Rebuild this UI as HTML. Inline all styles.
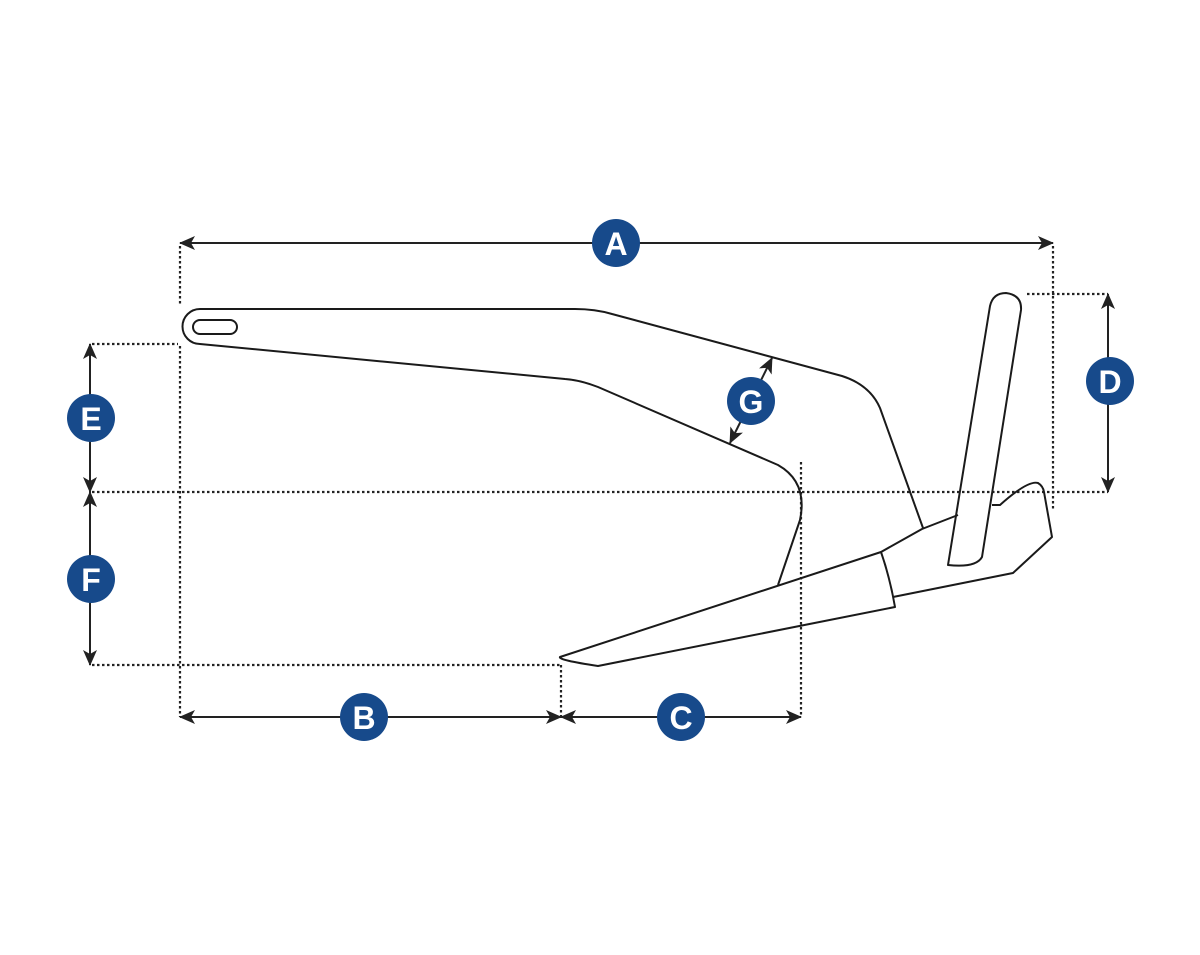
<!DOCTYPE html>
<html><head><style>html,body{margin:0;padding:0;background:#fff}</style></head><body>
<svg width="1200" height="950" viewBox="0 0 1200 950" xmlns="http://www.w3.org/2000/svg">
<defs>
<marker id="ar" viewBox="0 0 16 14" refX="15" refY="7" markerWidth="16" markerHeight="14" markerUnits="userSpaceOnUse" orient="auto-start-reverse">
<path d="M0,0 L16,7 L0,14 L4,7 Z" fill="#222"/>
</marker>
</defs>
<g stroke="#222" stroke-width="2.2" fill="none" stroke-dasharray="2.5,2.5">
<line x1="180" y1="246" x2="180" y2="306"/>
<line x1="180" y1="346" x2="180" y2="717"/>
<line x1="1053" y1="246" x2="1053" y2="510"/>
<line x1="1027" y1="294" x2="1108" y2="294"/>
<line x1="92" y1="492" x2="1108" y2="492"/>
<line x1="92" y1="344" x2="178" y2="344"/>
<line x1="92" y1="665" x2="560" y2="665"/>
<line x1="561" y1="665" x2="561" y2="717"/>
<line x1="801" y1="462" x2="801" y2="717"/>
</g>
<g stroke="#222" stroke-width="2" fill="none">
<line x1="180" y1="243" x2="1053" y2="243" marker-start="url(#ar)" marker-end="url(#ar)"/>
<line x1="1108" y1="294" x2="1108" y2="492" marker-start="url(#ar)" marker-end="url(#ar)"/>
<line x1="90" y1="344" x2="90" y2="492" marker-start="url(#ar)" marker-end="url(#ar)"/>
<line x1="90" y1="492" x2="90" y2="665" marker-start="url(#ar)" marker-end="url(#ar)"/>
<line x1="180" y1="717" x2="561" y2="717" marker-start="url(#ar)" marker-end="url(#ar)"/>
<line x1="561" y1="717" x2="801" y2="717" marker-start="url(#ar)" marker-end="url(#ar)"/>
<line x1="730" y1="443" x2="772" y2="358" marker-start="url(#ar)" marker-end="url(#ar)"/>
</g>
<g stroke="#1a1a1a" stroke-width="2" fill="none" stroke-linejoin="round">
<path d="M200,309 L575,309 Q595,309 612,314 L842,376 Q870,385 880,408 L923,528"/>
<path d="M778,585 L800,520 Q808,482 778,465 L598,387 Q580,380 565,379 L200,344 A17.5,17.5 0 0 1 200,309"/>
<rect x="193" y="320" width="44" height="14" rx="7"/>
<path d="M881,552 L560,657 Q558,660 598,666 L895,607 Q890,578 881,552 Z"/>
<path d="M881,552 L922,529 L958,515"/>
<path d="M992,505 L1000,505 Q1028,480 1038,483 Q1043,486 1044,492 L1052,537 L1013,573 L893,597"/>
<path d="M990,306 Q993,293 1006,293 Q1022,295 1021,310 L982,557 Q976,568 948,565 L990,306 Z"/>
</g>
<g fill="#174a8b">
<circle cx="616" cy="243" r="24"/>
<circle cx="364" cy="717" r="24"/>
<circle cx="681" cy="717" r="24"/>
<circle cx="1110" cy="381" r="24"/>
<circle cx="91" cy="418" r="24"/>
<circle cx="91" cy="579" r="24"/>
<circle cx="751" cy="401" r="24"/>
</g>
<g fill="#fff" font-family="Liberation Sans, sans-serif" font-weight="bold" font-size="32" text-anchor="middle">
<text x="616" y="255">A</text>
<text x="364" y="729">B</text>
<text x="681" y="729">C</text>
<text x="1110" y="393">D</text>
<text x="91" y="430">E</text>
<text x="91" y="591">F</text>
<text x="751" y="413">G</text>
</g>
</svg>
</body></html>
